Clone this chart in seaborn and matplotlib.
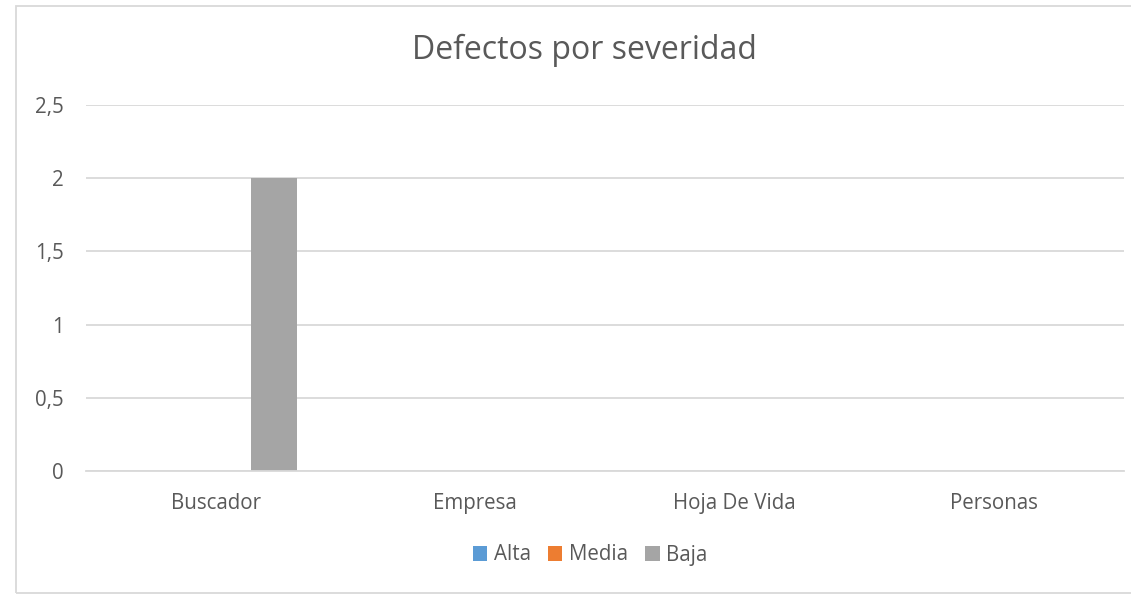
import matplotlib
matplotlib.use("Agg")
import matplotlib.pyplot as plt
import seaborn as sns
import pandas as pd
from matplotlib.patches import Rectangle
from matplotlib.ticker import FuncFormatter

categories = ["Buscador", "Empresa", "Hoja De Vida", "Personas"]
series_names = ["Alta", "Media", "Baja"]
alta = [0, 0, 0, 0]
media = [0, 0, 0, 0]
baja = [2, 0, 0, 0]
colors = ["#5B9BD5", "#ED7D31", "#A5A5A5"]
yticks = [0, 0.5, 1, 1.5, 2, 2.5]

rows = []
for name, vals in zip(series_names, [alta, media, baja]):
    for c, v in zip(categories, vals):
        rows.append({"Categoria": c, "Severidad": name, "Valor": v})
df = pd.DataFrame(rows)

sns.set_theme(style="white")
plt.rcParams["font.family"] = ["Open Sans", "DejaVu Sans"]
text_color = "#595959"

fig = plt.figure(figsize=(11.31, 5.94), dpi=100)
ax = fig.add_axes([86/1131, 123/594, 1038/1131, 366/594])

sns.barplot(data=df, x="Categoria", y="Valor", hue="Severidad",
            hue_order=series_names, palette=colors, order=categories,
            width=0.67, gap=0.21, dodge=True, ax=ax, errorbar=None,
            saturation=1, linewidth=0)

ax.set_ylim(0, 2.5)
ax.set_xlim(-0.5, len(categories) - 0.5)
ax.set_yticks(yticks)
ax.yaxis.set_major_formatter(FuncFormatter(lambda v, p: (f"{v:g}").replace(".", ",")))
ax.grid(axis="y", color="#D9D9D9", linewidth=1.3)
ax.set_axisbelow(True)
for s in ["top", "right", "left"]:
    ax.spines[s].set_visible(False)
ax.spines["bottom"].set_color("#D9D9D9")
ax.spines["bottom"].set_linewidth(1.3)
ax.tick_params(axis="both", length=0, labelsize=14.8, colors=text_color)
ax.tick_params(axis="y", pad=16)
ax.tick_params(axis="x", pad=16)
ax.set_xlabel("")
ax.set_ylabel("")

fig.text(584/1131, 1 - 50/594, "Defectos por severidad", ha="center", va="center",
         fontsize=23, color=text_color)

leg = ax.get_legend()
if leg is not None:
    leg.remove()
handles = [Rectangle((0, 0), 1, 1, facecolor=c, edgecolor="none") for c in colors]
fig.legend(handles, series_names, loc="center", bbox_to_anchor=(590/1131, 1 - 555/594),
           ncol=3, frameon=False, fontsize=14.8, handlelength=0.7, handleheight=0.7,
           handletextpad=0.3, columnspacing=0.85, labelcolor=text_color)

border = Rectangle((16/1131, 1/594), (1131 - 16)/1131 + 0.01, 587/594,
                   transform=fig.transFigure, fill=False, edgecolor="#D9D9D9",
                   linewidth=1.3, clip_on=False)
fig.add_artist(border)

fig.savefig("out.png", dpi=100)
